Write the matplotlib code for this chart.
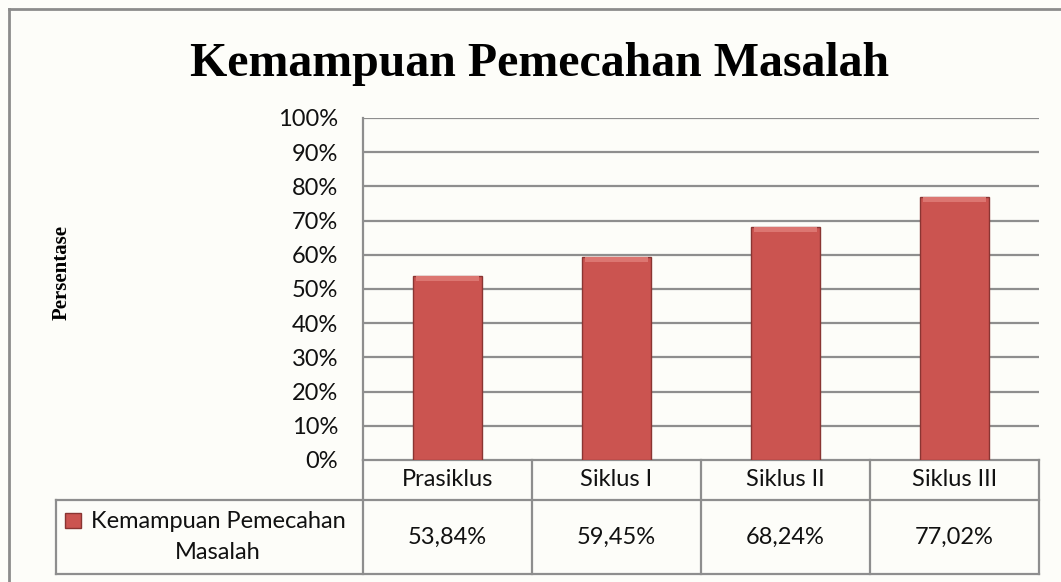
import numpy as np
import matplotlib.pyplot as plt
from matplotlib.lines import Line2D
from matplotlib.patches import Rectangle

# data
categories = ["Prasiklus", "Siklus I", "Siklus II", "Siklus III"]
values = [53.84, 59.45, 68.24, 77.02]
value_labels = ["53,84%", "59,45%", "68,24%", "77,02%"]
series_name = "Kemampuan Pemecahan\nMasalah"
y_ticks = list(range(0, 101, 10))

W, H = 1061, 582
bg = "#fdfdf9"
grid_col = "#8e8e8e"
bar_col = "#cb5450"
sans = ["Lato", "DejaVu Sans"]
serif = ["Liberation Serif", "DejaVu Serif"]
fs = 17

fig = plt.figure(figsize=(W / 100, H / 100), dpi=100, facecolor=bg)

# plot area in pixels
left, right, top, bottom = 363, 1039, 118, 460
ax = fig.add_axes([left / W, 1 - bottom / H, (right - left) / W, (bottom - top) / H])
ax.set_facecolor(bg)

x = np.arange(len(categories))
ax.bar(x, values, width=0.41, color=bar_col, edgecolor="#8a3532", linewidth=1.0, zorder=3)
# light bevel at the bar tops
ax.bar(x, [1.4] * len(values), bottom=[v - 1.5 for v in values], width=0.37,
       color="#dc7671", linewidth=0, zorder=4)

ax.set_xlim(-0.5, len(categories) - 0.5)
ax.set_ylim(0, 100)
ax.set_yticks(y_ticks)
ax.set_yticklabels([f"{t}%" for t in y_ticks], fontfamily=sans, fontsize=fs, color="#111111")
ax.tick_params(axis="y", length=0, pad=18)
ax.set_xticks([])
for yv in y_ticks[1:]:
    ax.axhline(yv, color=grid_col, linewidth=1.6, zorder=1)
for s in ["top", "right", "bottom"]:
    ax.spines[s].set_visible(False)
ax.spines["left"].set_color(grid_col)
ax.spines["left"].set_linewidth(1.6)

# data table below the plot
ph = bottom - top
row1 = -(500 - bottom) / ph
row2 = -(574 - bottom) / ph
leg_left = (56 - left) / (right - left)
xt = ax.get_xaxis_transform()
lk = dict(color=grid_col, linewidth=1.6, clip_on=False)

ax.add_line(Line2D([-0.5, 3.5], [0, 0], transform=xt, **lk))
ax.add_line(Line2D([leg_left, 1], [row1, row1], transform=ax.transAxes, **lk))
ax.add_line(Line2D([leg_left, 1], [row2, row2], transform=ax.transAxes, **lk))
ax.add_line(Line2D([leg_left, leg_left], [row1, row2], transform=ax.transAxes, **lk))
for b in np.arange(len(categories) + 1) - 0.5:
    ax.add_line(Line2D([b, b], [0, row2], transform=xt, **lk))

for i, (c, lab) in enumerate(zip(categories, value_labels)):
    ax.text(i, row1 / 2, c, transform=xt, ha="center", va="center",
            fontfamily=sans, fontsize=fs, color="#111111")
    ax.text(i, (row1 + row2) / 2, lab, transform=xt, ha="center", va="center",
            fontfamily=sans, fontsize=fs, color="#111111")

# legend cell
fig.text(218 / W, 1 - 537 / H, series_name, ha="center", va="center",
         fontfamily=sans, fontsize=fs, color="#111111", linespacing=1.55)
fig.patches.append(Rectangle((65 / W, 1 - 528 / H), 16 / W, 15 / H, transform=fig.transFigure,
                             facecolor=bar_col, edgecolor="#8a3532", linewidth=1))

# title and y label
fig.text(540 / W, 1 - 64 / H, "Kemampuan Pemecahan Masalah", ha="center", va="center",
         fontfamily=serif, fontweight="bold", fontsize=34.5)
fig.text(62 / W, 1 - 272 / H, "Persentase", ha="center", va="center", rotation=90,
         fontfamily=serif, fontweight="bold", fontsize=15)

# outer chart border (only top and left visible)
fig.lines.append(Line2D([9 / W, 1], [1 - 9 / H, 1 - 9 / H], transform=fig.transFigure,
                        color="#8c8c8c", linewidth=2))
fig.lines.append(Line2D([9 / W, 9 / W], [0, 1 - 9 / H], transform=fig.transFigure,
                        color="#8c8c8c", linewidth=2))

fig.savefig("out.png", dpi=100, facecolor=bg)
